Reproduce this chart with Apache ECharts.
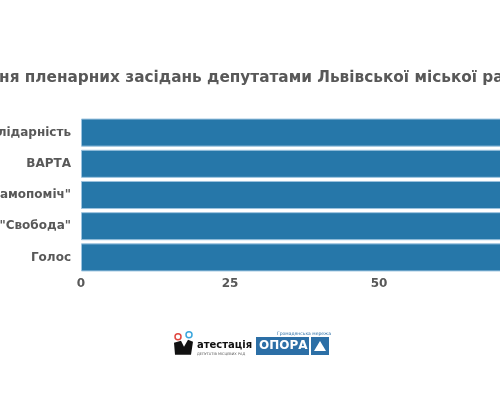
<!DOCTYPE html>
<html>
<head>
<meta charset="utf-8">
<script src="https://cdn.jsdelivr.net/npm/echarts@6/dist/echarts.min.js"></script>
<style>
html,body{margin:0;padding:0;background:#fff;}
#c{width:500px;height:400px;}
</style>
</head>
<body>
<div id="c"></div>
<script>
const titleText = 'Відвідування пленарних засідань депутатами Львівської міської ради';
const categories = ['Європейська Солідарність', 'ВАРТА', 'Об\'єднання "Самопоміч"', 'ВО "Свобода"', 'Голос'];
const attendance = [96, 94, 92, 93, 95];
const tickMin = 0;
const tickMax = 100;
const tickStep = 25;

const chart = echarts.init(document.getElementById('c'), null, {renderer: 'canvas'});
const grey = '#585858';
const font = 'DejaVu Sans';
chart.setOption({
  animation: false,
  title: {
    text: titleText,
    left: -103,
    top: 66,
    textStyle: {fontFamily: font, fontWeight: 'bold', fontSize: 15.3, color: grey}
  },
  grid: {left: 81, right: -177, top: 117, height: 156, containLabel: false, outerBoundsMode: 'none'},
  xAxis: {
    type: 'value', min: tickMin, max: tickMax, interval: tickStep,
    axisLine: {show: false}, axisTick: {show: false}, splitLine: {show: false},
    axisLabel: {fontFamily: font, fontWeight: 'bold', fontSize: 12, color: grey, margin: 5}
  },
  yAxis: {
    type: 'category', data: categories, inverse: true,
    axisLine: {show: false}, axisTick: {show: false},
    axisLabel: {fontFamily: font, fontWeight: 'bold', fontSize: 12, color: grey, margin: 10}
  },
  series: [{
    type: 'bar', data: attendance, barCategoryGap: '10%',
    itemStyle: {color: '#2677a9', borderColor: '#9cc3df', borderWidth: 1}
  }],
  graphic: [
    {type: 'group', left: 174, top: 331, children: [
      {type: 'circle', shape: {cx: 6, cy: 4, r: 3}, style: {fill: '#fff', stroke: '#e0463f', lineWidth: 1.5}},
      {type: 'circle', shape: {cx: 17, cy: 2, r: 3}, style: {fill: '#fff', stroke: '#3aa6dd', lineWidth: 1.5}},
      {type: 'polygon', shape: {points: [[2,10],[9,8],[12,14],[16,7],[21,9],[19,22],[3,22]]}, style: {fill: '#111'}},
      {type: 'text', left: 25, top: 8, style: {text: 'атестація', fontFamily: font, fontWeight: 'bold', fontSize: 10, fill: '#111'}},
      {type: 'text', left: 25, top: 19, style: {text: 'ДЕПУТАТІВ МІСЦЕВИХ РАД', fontFamily: font, fontSize: 3.5, fill: '#555'}}
    ]},
    {type: 'group', left: 256, top: 331, children: [
      {type: 'text', left: 21, top: 0, style: {text: 'Громадянська мережа', fontFamily: font, fontSize: 4.5, fill: '#2c6fa6'}},
      {type: 'rect', shape: {x: 0, y: 6, width: 53, height: 18}, style: {fill: '#2c6fa6'}},
      {type: 'text', left: 3, top: 9, style: {text: 'ОПОРА', fontFamily: font, fontWeight: 'bold', fontSize: 12, fill: '#fff'}},
      {type: 'rect', shape: {x: 55, y: 6, width: 18, height: 18}, style: {fill: '#2c6fa6'}},
      {type: 'polygon', shape: {points: [[64,10],[70,20],[58,20]]}, style: {fill: '#fff'}}
    ]}
  ]
});
</script>
</body>
</html>
